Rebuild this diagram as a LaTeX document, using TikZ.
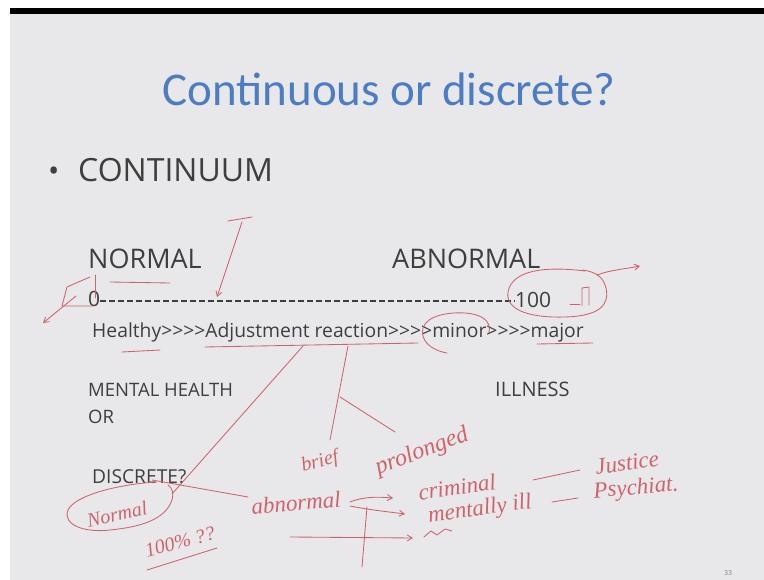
\documentclass[tikz,border=0pt]{standalone}
\usepackage{fontspec}
\setmainfont{Open Sans}
\newfontfamily\titlefont{Carlito}
\newfontfamily\handfont{Liberation Serif}
\usetikzlibrary{arrows.meta}
\definecolor{slidebg}{HTML}{E8E8EA}
\definecolor{slideink}{HTML}{3E3E3E}
\definecolor{titleblue}{HTML}{4C7CC4}
\definecolor{pen}{HTML}{D0626B}
\newcommand{\fsz}[1]{\fontsize{#1}{#1}\selectfont}

\begin{document}
\begin{tikzpicture}[x=1pt,y=-1pt,
  slidetext/.style={anchor=base west, inner sep=0pt, text=slideink},
  pen/.style={draw=pen, line width=0.85pt, line cap=round, line join=round},
  penarrow/.style={pen, -{Straight Barb[length=5pt,width=6pt]}},
  scribble/.style={text=pen, inner sep=0pt, font=\handfont\itshape\fsz{23}},
]
\useasboundingbox (0,0) rectangle (764,580);
% slide frame
\fill[white] (0,0) rectangle (764,580);
\fill[black] (10,8) rectangle (764,14);
\fill[slidebg] (10,14) rectangle (764,580);

% title and bullet
\node[anchor=base, inner sep=0pt, text=titleblue, font=\titlefont\fsz{47}] (title) at (389,106) {Continuous or discrete?};
\node[slidetext, font=\fsz{30}] (bullet) at (48,182) {\textbullet};
\node[slidetext, font=\fsz{32}] (continuum) at (78,182) {CONTINUUM};

% scale labels
\node[slidetext, font=\fsz{27}] (normal) at (88,269) {NORMAL};
\node[slidetext, font=\fsz{27}] (abnormal) at (392,269) {ABNORMAL};
\node[slidetext, font=\fsz{21}] (zero) at (88,307) {0};
\node[slidetext, font=\fsz{21}] (hundred) at (515,308) {100};
\draw[slideink, line width=1.4pt, dash pattern=on 6pt off 3pt] (zero.east |- 0,301) -- (hundred.west |- 0,301);
\node[slidetext, font=\fsz{19.3}] (steps) at (92,338) {Healthy>{}>{}>{}>Adjustment reaction>{}>{}>{}>minor>{}>{}>{}>major};

\node[slidetext, font=\fsz{18.5}] (mh) at (88,397) {MENTAL HEALTH};
\node[slidetext, font=\fsz{18.5}] (or) at (88,424) {OR};
\node[slidetext, font=\fsz{19.2}] (discrete) at (92,483) {DISCRETE?};
\node[slidetext, font=\fsz{20}] (illness) at (495,397) {ILLNESS};
\node[slidetext, font=\fsz{7}, text=gray] (page) at (724,575) {33};

% pen annotations on the scale
\draw[pen] (228,221) -- (252,217);
\coordinate (arrowtop) at (242,222);
\coordinate (arrowtip) at (217,297);
\draw[penarrow] (arrowtop) -- (arrowtip);
\draw[pen] (110,282) -- (170,283);
\draw[pen] (95,275) -- (95,298);
\draw[pen] (90,277) -- (67,287) -- (62,306) -- (93,306);
\draw[penarrow] (76,296) -- (43,323);
\draw[pen] (585,271) .. controls (545,266) and (512,270) .. (508,292)
  .. controls (505,312) and (535,318) .. (565,317)
  .. controls (598,316) and (610,306) .. (606,288)
  .. controls (603,276) and (595,272) .. (583,270);
\coordinate (outarrow) at (640,266);
\draw[penarrow] (597,275) .. controls (610,270) and (625,269) .. (outarrow);
\draw[pen] (570,304) -- (580,304);
\draw[pen] (582,306) -- (582,288) -- (589,287) -- (589,305);
\draw[pen] (447,353) .. controls (430,350) and (420,340) .. (423,328)
  .. controls (427,315) and (450,312) .. (465,313)
  .. controls (480,314) and (492,320) .. (489,333);
\draw[pen] (537,344) -- (593,343);
\draw[pen] (122,352) -- (160,350);
\draw[pen] (205,347) -- (418,343);

% branches below the scale
\draw[pen] (303,346) -- (172,494);
\draw[pen] (348,346) -- (330,440);
\draw[pen] (340,397) -- (395,432);
\node[scribble, rotate=15, font=\handfont\itshape\fsz{20}] (brief) at (320,462) {brief};
\node[scribble, rotate=21, font=\handfont\itshape\fsz{24}] (prolonged) at (422,452) {prolonged};

\draw[pen] (157,482) .. controls (120,484) and (75,495) .. (68,510)
  .. controls (62,525) and (85,533) .. (110,530)
  .. controls (140,527) and (165,520) .. (172,500)
  .. controls (174,492) and (172,488) .. (168,485);
\node[scribble, rotate=12, font=\handfont\itshape\fsz{20}] (normalnote) at (117,514) {Normal};
\draw[pen] (152,480) -- (248,497);
\node[scribble, rotate=5] (abnormalnote) at (296,503) {abnormal};
\node[scribble, rotate=15, font=\handfont\itshape\fsz{20}] (percent) at (180,542) {100\% ??};
\draw[pen] (147,570) -- (217,548);

\draw[penarrow] (350,502) .. controls (365,496) and (380,497) .. (393,498);
\draw[penarrow] (350,506) .. controls (370,510) and (390,512) .. (405,514);
\draw[pen] (367,507) -- (362,567);
\draw[penarrow] (290,537) -- (413,538);
\draw[pen] (424,537) -- (431,531) -- (437,535) -- (445,529) -- (452,531);

\node[scribble, rotate=8] (criminal) at (457,487) {criminal};
\node[scribble, rotate=8] (ill) at (480,510) {mentally ill};
\draw[pen] (533,480) -- (580,470);
\draw[pen] (552,502) -- (578,498);
\node[scribble, rotate=8] (justice) at (627,463) {Justice};
\node[scribble, rotate=5] (psych) at (636,489) {Psychiat.};
\end{tikzpicture}
\end{document}
